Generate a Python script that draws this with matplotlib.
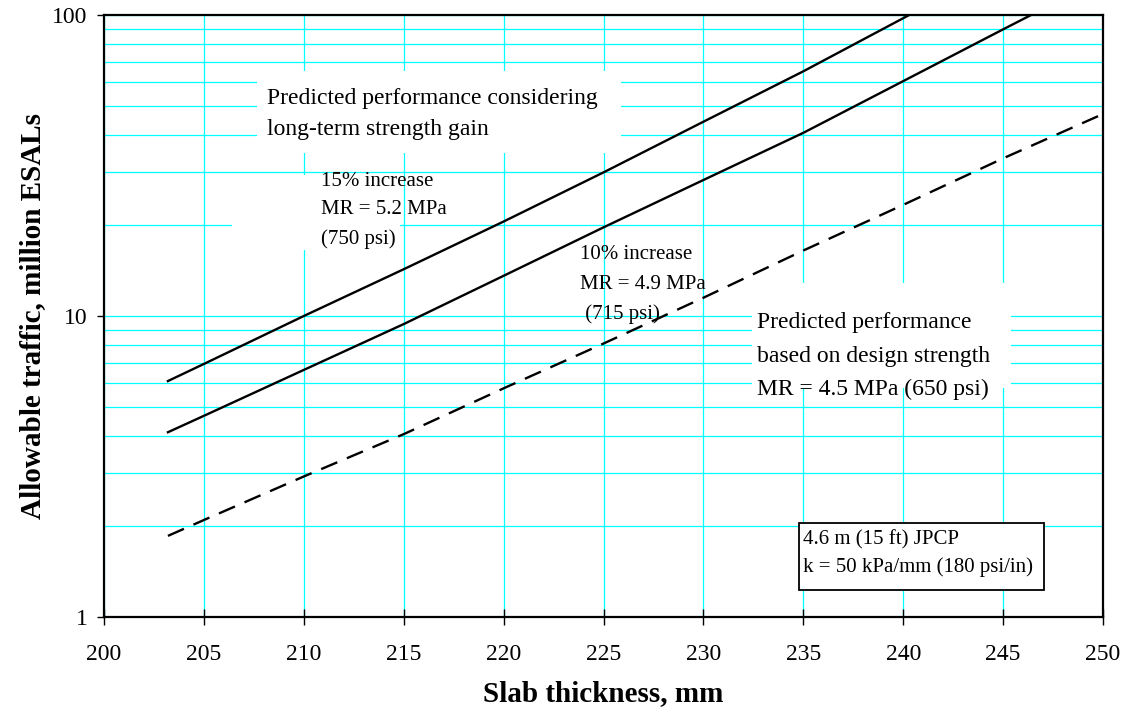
import numpy as np
import matplotlib.pyplot as plt
from matplotlib.patches import Rectangle
from matplotlib.ticker import FuncFormatter, LogLocator, NullFormatter

plt.rcParams['font.family'] = ['Liberation Serif', 'DejaVu Serif']

# slab thickness (mm) vs allowable traffic (million ESALs)
x_15 = [203.2, 205, 210, 215, 220, 225, 230, 235, 240.3]
esal_15 = [6.08, 6.93, 10.0, 14.3, 20.6, 30.0, 44.2, 65.0, 100]

x_10 = [203.2, 205, 210, 215, 220, 225, 230, 235, 240, 245, 246.4]
esal_10 = [4.11, 4.66, 6.62, 9.4, 13.6, 19.7, 28.3, 40.6, 60.3, 89.6, 100]

x_design = [203.2, 205, 210, 215, 220, 225, 230, 235, 240, 245, 250]
esal_design = [1.86, 2.10, 2.93, 4.05, 5.75, 8.1, 11.5, 16.5, 23.4, 33.4, 46.9]

x_ticks = [200, 205, 210, 215, 220, 225, 230, 235, 240, 245, 250]
y_ticks = [1, 10, 100]

fig = plt.figure(figsize=(11.25, 7.19), dpi=100)
ax = fig.add_axes([104 / 1125, 1 - 617 / 719, 999 / 1125, 602 / 719])

ax.set_yscale('log')
ax.set_xlim(200, 250)
ax.set_ylim(1, 100)
ax.set_axisbelow(True)

ax.set_xticks(x_ticks)
ax.set_yticks(y_ticks)
ax.yaxis.set_major_formatter(FuncFormatter(lambda v, p: f"{v:g}"))
ax.yaxis.set_minor_locator(LogLocator(base=10, subs=np.arange(2, 10)))
ax.yaxis.set_minor_formatter(NullFormatter())

ax.grid(True, which='both', axis='y', color='#00ffff', lw=0.9)
ax.grid(True, which='major', axis='x', color='#00ffff', lw=0.9)

ax.tick_params(axis='x', direction='inout', length=11, width=1, pad=14, labelsize=17)
ax.tick_params(axis='y', which='major', direction='out', length=5, width=1, pad=7, labelsize=17)
ax.tick_params(axis='y', which='minor', length=0)

for s in ax.spines.values():
    s.set_linewidth(1.6)
    s.set_color('black')

# curves
ax.plot(x_15, esal_15, color='black', lw=1.7, zorder=3)
ax.plot(x_10, esal_10, color='black', lw=1.7, zorder=3)
ax.plot(x_design, esal_design, color='black', lw=1.7, dashes=(7.4, 4.4), zorder=3)

# white backgrounds behind the annotation text (hide the grid)
ax.add_patch(Rectangle((207.66, 34.8), 225.88 - 207.66, 65.2 - 34.8,
                       facecolor='white', edgecolor='none', zorder=1))
ax.add_patch(Rectangle((206.4, 16.6), 214.8 - 206.4, 29.4 - 16.6,
                       facecolor='white', edgecolor='none', zorder=1))
ax.add_patch(Rectangle((232.43, 5.75), 245.39 - 232.43, 12.84 - 5.75,
                       facecolor='white', edgecolor='none', zorder=1))
ax.add_patch(Rectangle((234.78, 1.229), 247.05 - 234.78, 2.057 - 1.229,
                       facecolor='white', edgecolor='black', lw=1.3, zorder=3))

big = 17
small = 15
ax.text(208.16, 50.6, "Predicted performance considering", fontsize=big, va='baseline', zorder=4)
ax.text(208.16, 39.9, "long-term strength gain", fontsize=big, va='baseline', zorder=4)

ax.text(210.84, 27.0, "15% increase", fontsize=small, va='baseline', zorder=4)
ax.text(210.84, 21.8, "MR = 5.2 MPa", fontsize=small, va='baseline', zorder=4)
ax.text(210.84, 17.3, "(750 psi)", fontsize=small, va='baseline', zorder=4)

ax.text(223.82, 15.5, "10% increase", fontsize=small, va='baseline', zorder=4)
ax.text(223.82, 12.3, "MR = 4.9 MPa", fontsize=small, va='baseline', zorder=4)
ax.text(223.82, 9.8, " (715 psi)", fontsize=small, va='baseline', zorder=4)

ax.text(232.7, 9.1, "Predicted performance", fontsize=big, va='baseline', zorder=4)
ax.text(232.7, 7.05, "based on design strength", fontsize=big, va='baseline', zorder=4)
ax.text(232.7, 5.45, "MR = 4.5 MPa (650 psi)", fontsize=big, va='baseline', zorder=4)

ax.text(234.99, 1.748, "4.6 m (15 ft) JPCP", fontsize=small, va='baseline', zorder=4)
ax.text(234.99, 1.414, "k = 50 kPa/mm (180 psi/in)", fontsize=small, va='baseline', zorder=4)

ax.set_xlabel("Slab thickness, mm", fontsize=21, fontweight='bold', labelpad=11)
ax.set_ylabel("Allowable traffic, million ESALs", fontsize=21, fontweight='bold', labelpad=4)

fig.savefig("out.png", dpi=100)
